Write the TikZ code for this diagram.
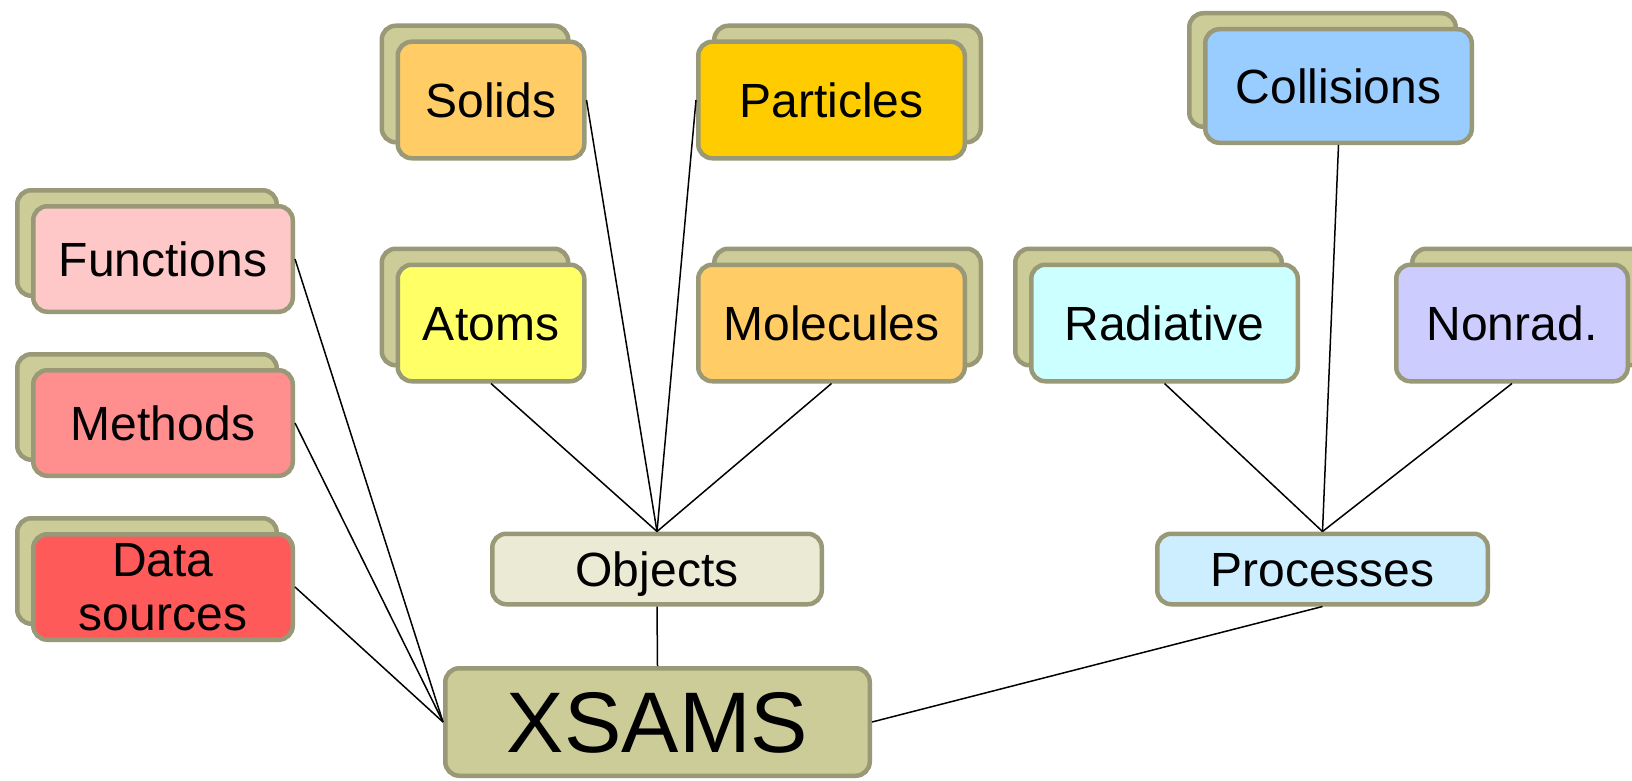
\documentclass[tikz,border=0pt]{standalone}
\usepackage{fontspec}
\setmainfont{Liberation Sans}
\usetikzlibrary{shadows}
\definecolor{edgec}{HTML}{999977}
\definecolor{backc}{HTML}{CCCC99}
\definecolor{cFun}{HTML}{FFC8C8}
\definecolor{cMet}{HTML}{FF8E8E}
\definecolor{cDat}{HTML}{FF5A5A}
\definecolor{cSol}{HTML}{FFCC66}
\definecolor{cPar}{HTML}{FFCC00}
\definecolor{cAto}{HTML}{FFFF66}
\definecolor{cMol}{HTML}{FFCC66}
\definecolor{cCol}{HTML}{99CCFF}
\definecolor{cRad}{HTML}{CCFFFF}
\definecolor{cNon}{HTML}{CCCCFF}
\definecolor{cObj}{HTML}{EAEAD5}
\definecolor{cPro}{HTML}{CCEEFF}
\begin{document}
\begin{tikzpicture}[x=1pt,y=-1pt,
  box/.style={draw=edgec, line width=4.5pt, rounded corners=14pt, inner sep=0pt,
    text height=35pt, text depth=0pt, font=\fontsize{48}{54}\selectfont},
  stackL/.style={copy shadow={shadow xshift=-16pt, shadow yshift=16pt, fill=backc, draw=edgec, line width=4.5pt}},
  stackR/.style={copy shadow={shadow xshift=16pt, shadow yshift=16pt, fill=backc, draw=edgec, line width=4.5pt}},
  sidebox/.style={box, stackL, minimum width=259.5pt, minimum height=105.5pt},
  link/.style={draw=black, line width=1.5pt}]
\useasboundingbox (0,0) rectangle (1632,781);
\clip (0,0) rectangle (1632,781);
\fill[white] (0,0) rectangle (1632,781);

% left column
\node[sidebox, fill=cFun] (fun) at (163,259) {Functions};
\node[sidebox, fill=cMet] (met) at (163,423) {Methods};
\node[sidebox, fill=cDat, text height={}, text depth={}, align=center] (dat) at (163,587) {Data\\sources};

% objects group
\node[box, stackL, fill=cSol, minimum width=186.5pt, minimum height=116.5pt] (sol) at (491,100) {Solids};
\node[box, stackR, fill=cPar, minimum width=266.5pt, minimum height=116.5pt] (par) at (831.5,100) {Particles};
\node[box, stackL, fill=cAto, minimum width=186.5pt, minimum height=116.5pt] (ato) at (491,323) {Atoms};
\node[box, stackR, fill=cMol, minimum width=266.5pt, minimum height=116.5pt] (mol) at (831.5,323) {Molecules};

% processes group
\node[box, stackL, fill=cCol, minimum width=266.5pt, minimum height=113.5pt] (col) at (1338.5,86) {Collisions};
\node[box, stackL, fill=cRad, minimum width=266.5pt, minimum height=116.5pt] (rad) at (1164.5,323) {Radiative};
\node[box, stackR, fill=cNon, minimum width=231.5pt, minimum height=116.5pt] (non) at (1512,323) {Nonrad.};

% middle
\node[box, fill=cObj, minimum width=329.5pt, minimum height=70.5pt] (obj) at (657,569) {Objects};
\node[box, fill=cPro, minimum width=330.5pt, minimum height=70.5pt] (pro) at (1322.5,569) {Processes};
\node[box, fill=backc, minimum width=424.5pt, minimum height=107.5pt, text height=61pt, font=\fontsize{86}{92}\selectfont] (xs) at (657.5,722) {XSAMS};

% connectors
\draw[link] (sol.east) -- (obj.north);
\draw[link] (par.west) -- (obj.north);
\draw[link] (ato.south) -- (obj.north);
\draw[link] (mol.south) -- (obj.north);
\draw[link] (obj.south) -- (xs.north);
\draw[link] (fun.east) -- (xs.west);
\draw[link] (met.east) -- (xs.west);
\draw[link] (dat.east) -- (xs.west);
\draw[link] (rad.south) -- (pro.north);
\draw[link] (col.south) -- (pro.north);
\draw[link] (non.south) -- (pro.north);
\draw[link] (pro.south) -- (xs.east);
\end{tikzpicture}
\end{document}
